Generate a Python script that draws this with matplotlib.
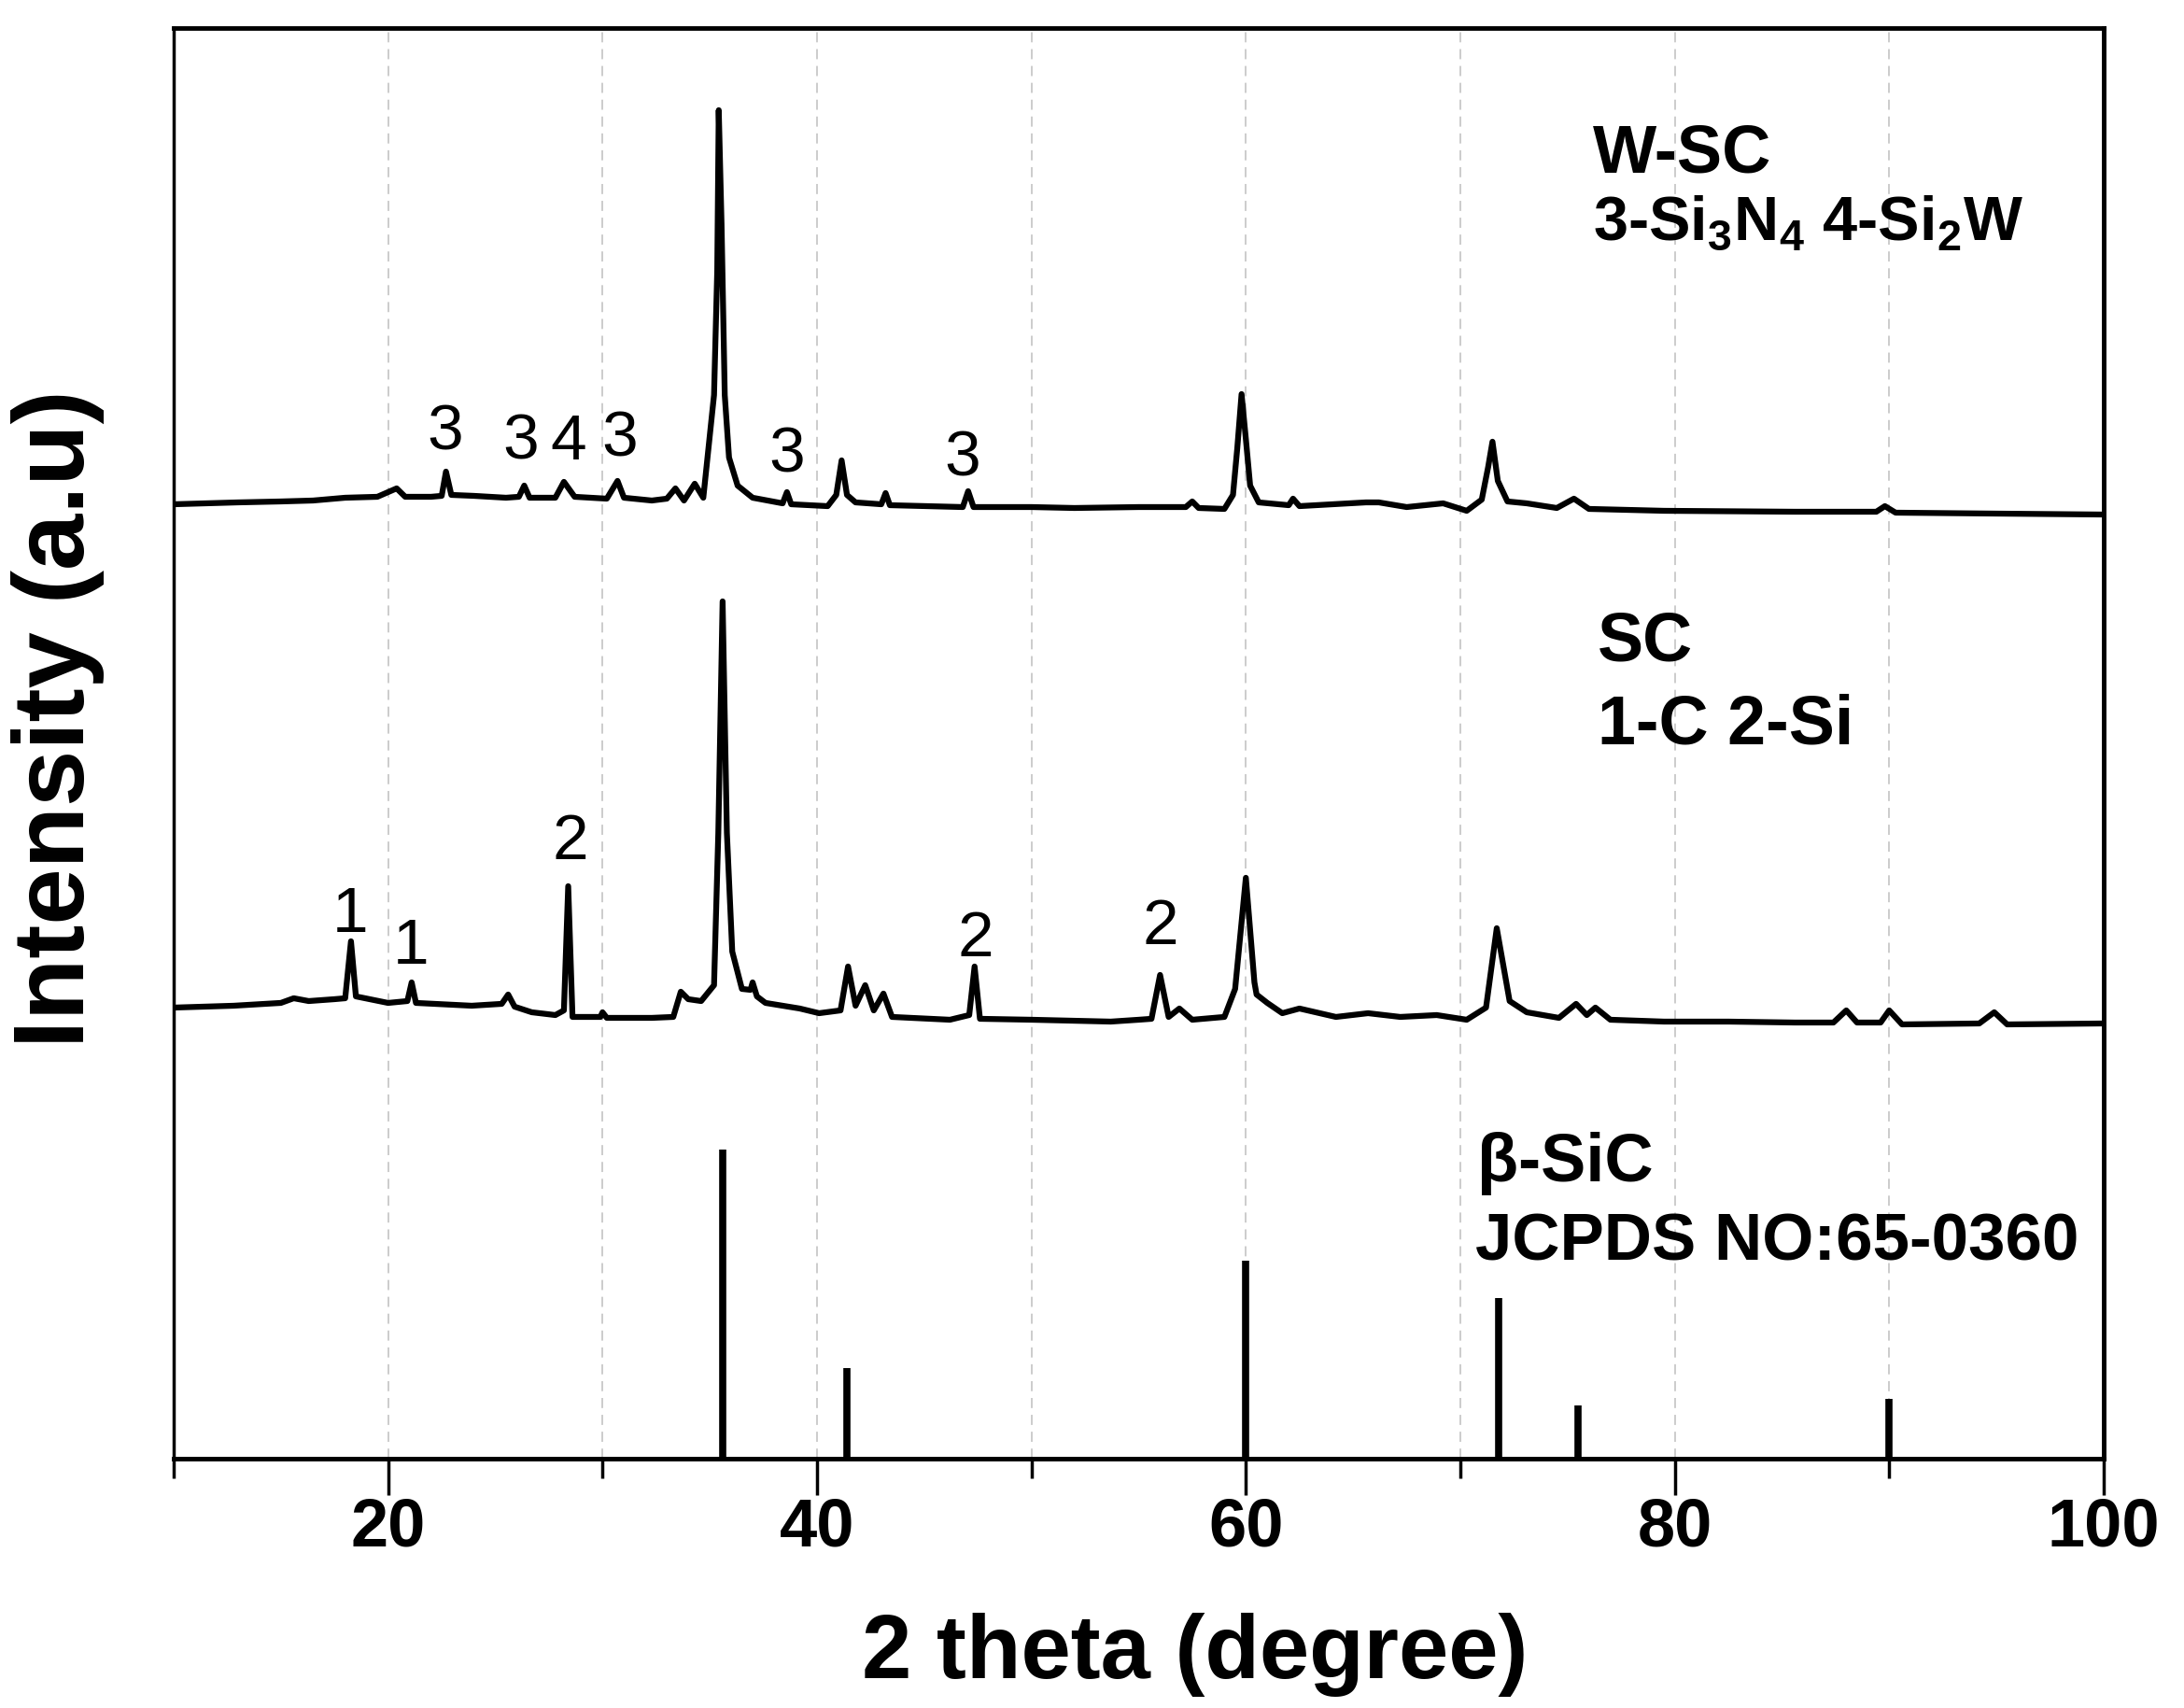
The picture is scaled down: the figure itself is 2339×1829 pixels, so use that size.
import numpy as np
import matplotlib
matplotlib.use("Agg")
import matplotlib.pyplot as plt

plt.rcParams['font.family'] = ['Liberation Sans', 'DejaVu Sans']
plt.rcParams['mathtext.fontset'] = 'custom'
plt.rcParams['mathtext.rm'] = 'Liberation Sans:bold'

# W-SC pattern (2theta, intensity above its baseline offset)
wsc_x = [10.0, 11.5, 13.0, 15.0, 16.5, 18.0, 19.5, 20.4, 20.8, 22.0, 22.5, 22.7, 22.95,
         24.0, 25.5, 26.1, 26.35, 26.6, 27.8, 28.2, 28.7, 30.2, 30.7, 31.0, 32.3, 33.0,
         33.4, 33.8, 34.3, 34.7, 35.0, 35.2, 35.35, 35.42, 35.55, 35.7, 35.9, 36.3, 37.0,
         38.4, 38.6, 38.8, 40.5, 40.9, 41.15, 41.4, 41.8, 43.0, 43.2, 43.4, 46.8, 47.05,
         47.3, 50.0, 52.0, 55.0, 57.2, 57.5, 57.8, 59.0, 59.4, 59.6, 59.8, 60.0, 60.2,
         60.6, 62.0, 62.2, 62.5, 65.6, 66.2, 67.5, 69.2, 70.3, 71.0, 71.3, 71.5, 71.75,
         72.2, 73.1, 74.5, 75.3, 76.0, 79.5, 85.6, 89.4, 89.8, 90.3, 95.0, 100.0]
wsc_y = [22, 23, 24, 25, 26, 29, 30, 39, 30, 30, 31, 57, 32,
         31, 29, 30, 42, 29, 29, 46, 30, 28, 47, 29, 26, 28,
         39, 26, 44, 29, 95, 139, 272, 444, 322, 139, 72, 42, 29,
         23, 35, 22, 20, 32, 69, 32, 24, 22, 34, 21, 19, 36,
         19, 19, 18, 19, 19, 25, 18, 17, 32, 82, 140, 92, 42,
         24, 21, 28, 20, 24, 24, 19, 23, 15, 27, 62, 89, 47,
         25, 23, 18, 28, 17, 15, 14, 14, 20, 13, 12, 11]
wsc_offset = 1000

# SC pattern
sc_x = [10.0, 12.8, 15.0, 15.6, 16.3, 17.5, 18.0, 18.27, 18.5, 20.0, 20.9, 21.1, 21.3,
        23.9, 25.3, 25.6, 25.9, 26.7, 27.8, 28.2, 28.4, 28.6, 29.9, 30.0, 30.2, 32.3,
        33.3, 33.65, 34.0, 34.6, 35.2, 35.4, 35.6, 35.8, 36.05, 36.5, 36.9, 37.0, 37.2,
        37.6, 39.2, 40.1, 41.1, 41.45, 41.8, 42.25, 42.65, 43.1, 43.5, 46.2, 47.1, 47.35,
        47.6, 50.0, 53.7, 55.0, 55.6, 56.0, 56.4, 56.9, 57.5, 59.0, 59.5, 60.0, 60.4,
        60.5, 61.0, 61.7, 62.5, 64.2, 65.7, 67.2, 68.9, 70.3, 71.2, 71.7, 72.3, 73.1,
        74.6, 75.4, 75.9, 76.3, 77.0, 79.5, 82.5, 85.6, 87.4, 88.0, 88.5, 89.6, 90.0,
        90.6, 94.2, 94.9, 95.5, 100.0]
sc_y = [23, 25, 28, 33, 30, 32, 33, 94, 35, 28, 30, 50, 28,
        25, 27, 37, 24, 18, 15, 20, 153, 13, 13, 18, 12, 12,
        13, 40, 32, 30, 47, 210, 458, 210, 83, 43, 42, 50, 35,
        28, 22, 17, 20, 67, 25, 47, 20, 38, 13, 10, 15, 67,
        11, 10, 8, 10, 11, 58, 13, 22, 10, 13, 43, 162, 50,
        37, 28, 17, 22, 13, 17, 13, 15, 10, 23, 108, 30, 18,
        12, 27, 15, 23, 10, 8, 8, 7, 7, 20, 7, 7, 20,
        5, 6, 18, 5, 6]
sc_offset = 460

# beta-SiC reference lines (JCPDS 65-0360)
ref_pos = [35.6, 41.4, 60.0, 71.8, 75.5, 90.0]
ref_int = [331, 97, 212, 172, 57, 64]

# phase labels on peaks: (2theta, height, text)
wsc_marks = [(22.67, 1098, '3'), (26.2, 1088, '3'), (28.4, 1088, '4'),
             (30.8, 1091, '3'), (38.6, 1074, '3'), (46.8, 1070, '3')]
sc_marks = [(18.25, 582, '1'), (21.05, 548, '1'), (28.5, 660, '2'),
            (47.4, 556, '2'), (56.0, 569, '2')]

fig = plt.figure(figsize=(23.39, 18.29), dpi=100)
ax = fig.add_axes([0.0795, 0.146, 0.8837, 0.8376])

ax.plot(wsc_x, np.array(wsc_y) + wsc_offset, color='black', lw=4.5, solid_joinstyle='round')
ax.plot(sc_x, np.array(sc_y) + sc_offset, color='black', lw=4.5, solid_joinstyle='round')
ax.vlines(ref_pos, 0, ref_int, color='black', lw=5.5)

for x, y, s in wsc_marks + sc_marks:
    ax.text(x, y, s, fontsize=50, ha='center', va='center')

ax.text(76.2, 1396, 'W-SC', fontsize=52, fontweight='bold', va='center')
ax.text(76.2, 1322, '3-Si$_3$N$_4$ 4-Si$_2$W', fontsize=48, fontweight='bold', va='center')
ax.text(76.4, 874, 'SC', fontsize=53, fontweight='bold', va='center')
ax.text(76.4, 785, '1-C 2-Si', fontsize=53, fontweight='bold', va='center')
ax.text(70.8, 316, 'β-SiC', fontsize=52, fontweight='bold', va='center')
ax.text(70.7, 230, 'JCPDS NO:65-0360', fontsize=51, fontweight='bold', va='center')

ax.set_xlim(10, 100)
ax.set_ylim(0, 1532)
ax.set_xticks([20, 40, 60, 80, 100])
ax.set_xticks([10, 30, 50, 70, 90], minor=True)
ax.set_yticks([])
ax.tick_params(axis='x', which='major', length=28, width=2.5, direction='out',
               labelsize=52, pad=1)
ax.tick_params(axis='x', which='minor', length=15, width=2.5, direction='out')
for lab in ax.get_xticklabels():
    lab.set_fontweight('bold')
ax.grid(True, axis='x', which='both', color='#c8c8c8', lw=1.3, ls=(0, (6, 4)))

for side in ['top', 'right', 'bottom']:
    ax.spines[side].set_linewidth(3.5)
ax.spines['left'].set_linewidth(2.5)

ax.set_xlabel('2 theta (degree)', fontsize=69, fontweight='bold')
ax.set_ylabel('Intensity (a.u)', fontsize=78, fontweight='bold')
ax.xaxis.set_label_coords(0.529, -0.108)
ax.yaxis.set_label_coords(-0.036, 0.517)

fig.savefig('out.png', dpi=100)
